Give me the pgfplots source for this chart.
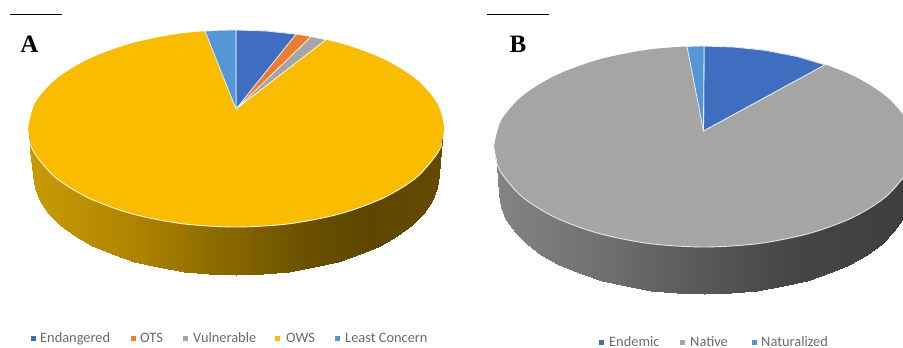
\documentclass[border=0pt]{standalone}
\usepackage{fontspec}
\setmainfont{Liberation Serif}
\newfontfamily\legendfont{Carlito}
\usepackage{pgfplots}
\pgfplotsset{compat=1.18}

\definecolor{cEnd}{HTML}{3F6DC0}
\definecolor{cOts}{HTML}{ED7D31}
\definecolor{cVul}{HTML}{A5A5A5}
\definecolor{cOws}{HTML}{FABC00}
\definecolor{cLc}{HTML}{5596D6}
\definecolor{cRim}{HTML}{FFF6D8}
\definecolor{cLegend}{HTML}{6A6A6A}

% Side walls of the two discs, lit from the left; positions run along x
\pgfplotsset{
  colormap={wallgold}{
    rgb255(0pt)=(200,155,5) rgb255(30pt)=(200,155,5) rgb255(130pt)=(176,133,0)
    rgb255(240pt)=(132,100,0) rgb255(300pt)=(108,81,0) rgb255(367pt)=(94,70,0)
    rgb255(444pt)=(100,75,0) rgb255(903pt)=(100,75,0)},
  colormap={wallgrey}{
    rgb255(0pt)=(132,132,132) rgb255(495pt)=(132,132,132) rgb255(600pt)=(112,112,112)
    rgb255(704pt)=(88,88,88) rgb255(790pt)=(70,70,70) rgb255(903pt)=(62,62,62)},
}

\tikzset{
  legendlabel/.style={anchor=base west,inner sep=0pt,font=\legendfont\fontsize{14.4}{15}\selectfont,text=cLegend},
  panel/.style={anchor=center,inner sep=0pt,font=\bfseries\fontsize{25}{25}\selectfont,text=black}
}

\begin{document}
\begin{tikzpicture}
\useasboundingbox (0,0) rectangle (903pt,348pt);
\begin{axis}[
  at={(0,0)},anchor=south west,
  scale only axis,width=903pt,height=348pt,
  xmin=0,xmax=903,ymin=0,ymax=348,y dir=reverse,
  axis lines=none,clip=true,
  clip mode=individual,
  point meta min=0,point meta max=903,
]
% --- Panel A: wall
\addplot[surf,shader=interp,mesh/rows=2,point meta=x,colormap name=wallgold] table {
x y
29 130
30.5 130
33 130
34.7 130
39.9 130
48.5 130
60.2 130
74.9 130
92.5 130
112.4 130
134.5 130
158.3 130
183.5 130
209.5 130
236 130
262.5 130
288.5 130
313.7 130
337.5 130
359.6 130
379.5 130
397.1 130
411.8 130
423.5 130
432.1 130
437.3 130
439 130
441 130
442.5 130
29 130.5
30.5 150
33 175
34.7 188.1
39.9 200.9
48.5 213.3
60.2 225
74.9 235.9
92.5 245.7
112.4 254.3
134.5 261.6
158.3 267.4
183.5 271.6
209.5 274.1
236 275
262.5 274.1
288.5 271.6
313.7 267.4
337.5 261.6
359.6 254.3
379.5 245.7
397.1 235.9
411.8 225
423.5 213.3
432.1 200.9
437.3 188.1
439 175
441 150
442.5 130.5
};
% --- Panel A: top face (OWS)
\addplot[smooth,draw=none,fill=cOws] coordinates {
  (28,128.5)(35.1,103)(55.9,79.2)(88.9,58.9)(132,43.2)(182.2,33.3)(236,30)(289.8,33.3)
  (340,43.2)(383.1,58.9)(416.1,79.2)(436.9,103)(444,128.5)(436.9,154)(416.1,177.8)
  (383.1,198.1)(340,213.8)(289.8,223.7)(236,227)(182.2,223.7)(132,213.8)(88.9,198.1)
  (55.9,177.8)(35.1,154)(28,128.5)};
% front rim highlight
\addplot[smooth,draw=cRim,line width=0.9pt] coordinates {
  (28.5,138)(35.1,154)(55.9,177.8)(88.9,198.1)(132,213.8)(182.2,223.7)(236,227)
  (289.8,223.7)(340,213.8)(383.1,198.1)(416.1,177.8)(436.9,154)(442,143)};
% slices
\addplot[draw=cRim!60!white,line width=0.8pt,fill=cVul] coordinates {(236,109)(311,36.6)(326,39.7)} -- cycle;
\addplot[draw=cRim!60!white,line width=0.5pt,fill=cOts] coordinates {(236,109)(296,34.2)(311,36.6)} -- cycle;
\addplot[draw=white!85!cEnd,line width=0.8pt,fill=cEnd] coordinates {(236,109)(236,30)(266,31)(296,34.2)} -- cycle;
\addplot[draw=white!85!cLc,line width=0.8pt,fill=cLc] coordinates {(236,109)(205,31.1)(220,30.2)(236,30)} -- cycle;

% --- Panel B: wall
\addplot[surf,shader=interp,mesh/rows=2,point meta=x,colormap name=wallgrey] table {
x y
495.5 148
496.5 148
499 148
500.8 148
506 148
514.6 148
526.5 148
541.4 148
559 148
579.2 148
601.5 148
625.5 148
651 148
677.2 148
704 148
730.8 148
757 148
782.5 148
806.5 148
828.8 148
849 148
866.6 148
881.5 148
893.4 148
902 148
907.2 148
909 148
911 148
913 148
495.5 148.5
496.5 165
499 193.5
500.8 206.6
506 219.5
514.6 232
526.5 243.8
541.4 254.7
559 264.6
579.2 273.2
601.5 280.5
625.5 286.4
651 290.6
677.2 293.1
704 294
730.8 293.1
757 290.6
782.5 286.4
806.5 280.5
828.8 273.2
849 264.6
866.6 254.7
881.5 243.8
893.4 232
902 219.5
907.2 206.6
909 193.5
911 165
913 148.5
};
% --- Panel B: top face (Native)
\addplot[smooth,draw=none,fill=cVul] coordinates {
  (494,146.5)(501.1,120.5)(522.1,96.2)(555.5,75.4)(599,59.5)(649.6,49.4)(704,46)(758.4,49.4)
  (809,59.5)(852.5,75.4)(885.9,96.2)(906.9,120.5)(914,146.5)(906.9,172.5)(885.9,196.8)
  (852.5,217.6)(809,233.5)(758.4,243.6)(704,247)(649.6,243.6)(599,233.5)(555.5,217.6)
  (522.1,196.8)(501.1,172.5)(494,146.5)};
\addplot[smooth,draw=white!90!black,line width=0.9pt] coordinates {
  (495,156)(501.1,172.5)(522.1,196.8)(555.5,217.6)(599,233.5)(649.6,243.6)(704,247)
  (758.4,243.6)(809,233.5)(852.5,217.6)(885.9,196.8)(906.9,172.5)};
\addplot[draw=white!88!cEnd,line width=0.9pt,fill=cEnd] coordinates {(703.5,131)(704,46)(735,47.1)(765,50.3)(797,56.4)(825,64.8)} -- cycle;
\addplot[draw=white!85!cLc,line width=0.8pt,fill=cLc] coordinates {(703.5,131)(687,46.5)(695,46.2)(704,46)} -- cycle;

% --- Panel rules
\addplot[black,line width=0.9pt] coordinates {(10,14.5)(62,14.5)};
\addplot[black,line width=0.9pt] coordinates {(487,14.5)(549,14.5)};
\node[panel] at (axis cs:29.5,44.5) {A};
\node[panel] at (axis cs:518,44.5) {B};

% --- Legend, panel A
\addplot[only marks,mark=square*,mark size=2pt,color=cEnd] coordinates {(33,338)};
\addplot[only marks,mark=square*,mark size=2pt,color=cOts] coordinates {(133,338)};
\addplot[only marks,mark=square*,mark size=2pt,color=cVul] coordinates {(185,338)};
\addplot[only marks,mark=square*,mark size=2pt,color=cOws] coordinates {(277,338)};
\addplot[only marks,mark=square*,mark size=2pt,color=cLc] coordinates {(337,338)};
\node[legendlabel] at (axis cs:40,342.5) {Endangered};
\node[legendlabel] at (axis cs:140,342.5) {OTS};
\node[legendlabel] at (axis cs:193,342.5) {Vulnerable};
\node[legendlabel] at (axis cs:286,342.5) {OWS};
\node[legendlabel] at (axis cs:345,342.5) {Least Concern};

% --- Legend, panel B
\addplot[only marks,mark=square*,mark size=2pt,color=cEnd] coordinates {(601,342.5)};
\addplot[only marks,mark=square*,mark size=2pt,color=cVul] coordinates {(682,342.5)};
\addplot[only marks,mark=square*,mark size=2pt,color=cLc] coordinates {(754,342.5)};
\node[legendlabel] at (axis cs:609,346) {Endemic};
\node[legendlabel] at (axis cs:690,346) {Native};
\node[legendlabel] at (axis cs:761,346) {Naturalized};
\end{axis}
\end{tikzpicture}
\end{document}
